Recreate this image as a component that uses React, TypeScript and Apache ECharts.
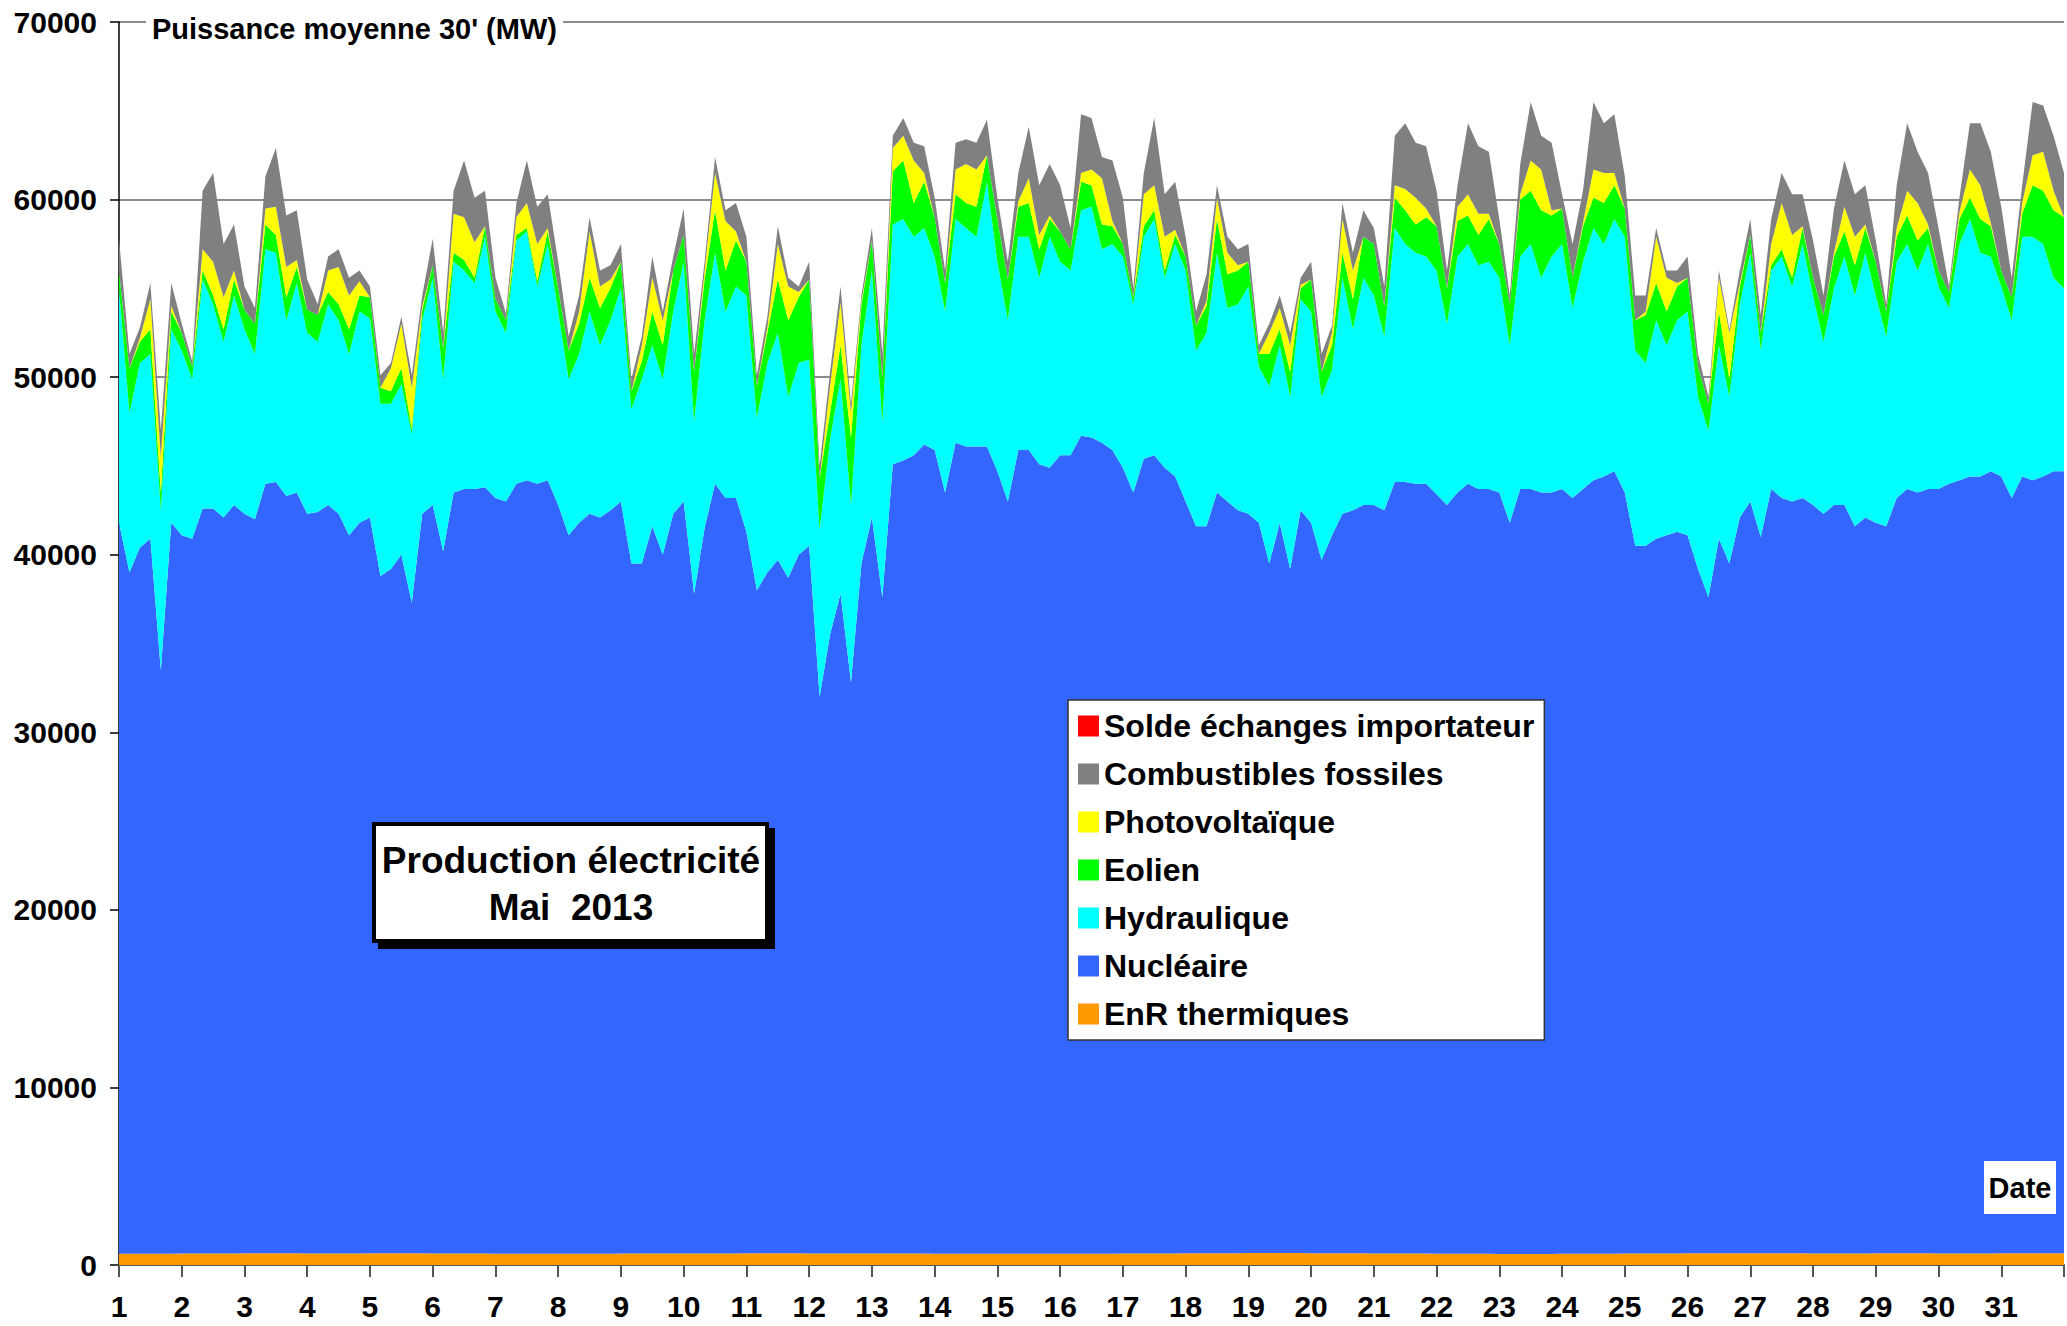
import React, { useEffect, useRef } from "react";
import * as echarts from "echarts";

// Sampling: 6 readings per day (0h, 4h, 8h, 12h, 16h, 20h), days 1..31, plus day 32 0h.
const heures = [0, 4, 8, 12, 16, 20];
const nbJours = 31;

// Cumulative levels (GW): top edge of each stacked band.
const cumulNucleaireGW = [
  41.8, 39.0, 40.4, 40.9, 33.5, 41.8,
  41.1, 40.9, 42.6, 42.6, 42.1, 42.8,
  42.3, 42.0, 44.0, 44.1, 43.3, 43.5,
  42.3, 42.4, 42.8, 42.3, 41.1, 41.8,
  42.1, 38.8, 39.2, 40.0, 37.3, 42.3,
  42.8, 40.2, 43.5, 43.7, 43.7, 43.8,
  43.2, 43.0, 44.0, 44.2, 44.0, 44.2,
  42.8, 41.1, 41.8, 42.3, 42.1, 42.5,
  43.0, 39.5, 39.5, 41.6, 40.0, 42.3,
  43.0, 37.8, 41.5, 44.0, 43.2, 43.2,
  41.3, 38.0, 39.0, 39.7, 38.7, 40.0,
  40.5, 32.0, 35.5, 37.8, 32.8, 39.5,
  42.1, 37.6, 45.1, 45.3, 45.6, 46.2,
  45.9, 43.5, 46.3, 46.1, 46.1, 46.1,
  44.7, 43.0, 45.9, 45.9, 45.1, 44.9,
  45.6, 45.6, 46.7, 46.6, 46.3, 45.9,
  44.9, 43.5, 45.4, 45.6, 44.9, 44.4,
  43.0, 41.6, 41.6, 43.5, 43.0, 42.5,
  42.3, 41.8, 39.5, 41.8, 39.2, 42.5,
  41.8, 39.7, 41.1, 42.3, 42.5, 42.8,
  42.8, 42.5, 44.1, 44.1, 44.0, 44.0,
  43.4, 42.8, 43.5, 44.0, 43.7, 43.7,
  43.5, 41.8, 43.7, 43.7, 43.5, 43.5,
  43.7, 43.2, 43.7, 44.2, 44.4, 44.7,
  43.5, 40.5, 40.5, 40.9, 41.1, 41.3,
  41.1, 39.2, 37.6, 40.9, 39.5, 42.1,
  43.0, 41.0, 43.7, 43.2, 43.0, 43.2,
  42.8, 42.3, 42.8, 42.8, 41.6, 42.1,
  41.8, 41.6, 43.2, 43.7, 43.5, 43.7,
  43.7, 44.0, 44.2, 44.4, 44.4, 44.7,
  44.4, 43.2, 44.4, 44.2, 44.4, 44.7,
  44.7,
];

const cumulHydrauliqueGW = [
  55.0, 48.0, 50.8, 51.3, 42.5, 52.7,
  51.5, 49.9, 55.5, 54.1, 52.0, 54.6,
  52.7, 51.3, 57.2, 57.0, 53.2, 55.3,
  52.5, 52.0, 54.1, 53.2, 51.3, 53.7,
  53.3, 48.5, 48.5, 49.6, 46.8, 53.2,
  55.6, 49.9, 56.5, 56.0, 55.3, 57.9,
  53.7, 52.5, 57.7, 58.2, 55.1, 57.5,
  53.7, 49.9, 51.3, 53.7, 51.8, 53.2,
  55.0, 48.2, 49.9, 51.8, 49.9, 53.7,
  56.5, 47.5, 53.2, 57.0, 53.7, 55.1,
  54.6, 47.7, 50.8, 52.5, 48.9, 50.8,
  51.0, 41.4, 46.5, 49.9, 42.8, 51.8,
  56.0, 47.5, 58.6, 58.9, 57.9, 58.4,
  56.8, 53.7, 58.9, 58.4, 57.9, 61.0,
  56.5, 53.2, 57.9, 57.9, 55.6, 57.9,
  56.5, 56.0, 59.4, 59.6, 57.2, 57.5,
  56.8, 54.1, 57.9, 58.9, 55.6, 57.5,
  56.0, 51.5, 52.5, 57.0, 53.9, 54.1,
  55.1, 50.6, 49.5, 51.8, 48.9, 54.4,
  53.7, 48.9, 50.4, 55.6, 52.7, 55.6,
  54.6, 52.3, 58.4, 57.5, 57.0, 56.8,
  56.0, 53.0, 56.8, 57.5, 56.3, 56.5,
  55.6, 51.8, 56.8, 57.5, 55.6, 56.8,
  57.5, 53.9, 56.5, 58.4, 57.5, 58.9,
  57.9, 51.5, 50.8, 53.2, 51.8, 53.2,
  53.7, 48.9, 47.0, 51.8, 48.9, 54.1,
  57.0, 51.5, 56.0, 56.8, 55.1, 57.5,
  54.6, 52.0, 55.0, 56.8, 54.6, 57.0,
  54.6, 52.3, 56.5, 57.5, 56.0, 57.5,
  55.1, 53.9, 57.5, 58.9, 57.0, 56.8,
  55.1, 53.2, 57.9, 57.9, 57.5, 55.6,
  55.0,
];

const cumulEolienGW = [
  56.0, 50.5, 52.0, 52.7, 43.5, 53.7,
  52.5, 50.6, 56.0, 54.6, 52.7, 55.5,
  53.8, 53.0, 58.6, 58.0, 54.5, 56.2,
  53.8, 53.5, 54.8, 54.1, 52.7, 54.6,
  54.5, 49.4, 49.2, 50.5, 47.1, 53.8,
  56.3, 51.6, 57.0, 56.6, 55.6, 58.5,
  54.4, 53.2, 58.0, 58.4, 55.4, 58.2,
  55.0, 51.5, 53.0, 55.6, 53.9, 55.0,
  56.5, 49.2, 50.9, 53.7, 51.8, 56.0,
  58.0, 50.3, 55.5, 59.4, 56.0, 57.7,
  56.5, 49.5, 52.5, 55.5, 53.2, 54.5,
  55.5, 44.3, 48.0, 51.8, 46.6, 54.1,
  57.7, 49.9, 61.6, 62.2, 59.8, 61.0,
  59.0, 55.3, 60.3, 59.8, 59.6, 62.5,
  58.9, 55.5, 59.6, 59.8, 57.2, 58.9,
  58.2, 57.2, 61.0, 60.8, 58.6, 58.5,
  57.5, 54.5, 58.5, 59.4, 56.0, 58.0,
  56.8, 52.9, 54.0, 58.9, 55.8, 56.0,
  56.5, 51.3, 51.3, 52.7, 50.3, 55.0,
  55.5, 50.3, 51.8, 57.0, 54.4, 57.9,
  57.5, 54.0, 60.1, 59.4, 58.6, 59.0,
  58.5, 55.0, 58.8, 59.1, 58.0, 58.9,
  57.5, 54.1, 60.0, 60.5, 59.4, 59.1,
  59.5, 55.6, 58.5, 60.1, 59.8, 60.8,
  59.5, 53.2, 53.5, 55.3, 53.7, 55.1,
  55.6, 50.6, 48.5, 53.7, 49.9, 55.1,
  58.0, 52.5, 56.3, 57.2, 55.6, 58.4,
  55.6, 53.5, 56.8, 58.2, 56.3, 58.4,
  56.5, 53.7, 57.9, 59.1, 57.7, 58.4,
  56.0, 54.8, 58.9, 60.1, 58.9, 58.5,
  56.0, 54.5, 59.2, 60.8, 60.5, 59.4,
  59.0,
];

const cumulPhotovoltaiqueGW = [
  56.0, 50.5, 52.2, 54.4, 45.5, 54.0,
  52.5, 50.6, 57.2, 56.5, 54.5, 56.0,
  53.8, 53.0, 59.5, 59.6, 56.2, 56.6,
  53.8, 53.5, 56.0, 56.2, 54.6, 55.4,
  54.5, 49.4, 50.5, 53.0, 49.4, 54.0,
  56.3, 51.6, 59.2, 59.0, 57.6, 58.5,
  54.4, 53.2, 59.0, 59.8, 57.5, 58.4,
  55.0, 51.5, 53.7, 58.2, 55.1, 55.5,
  56.5, 49.2, 51.8, 55.6, 53.2, 56.0,
  58.0, 50.3, 56.0, 61.5, 58.8, 58.2,
  56.5, 49.5, 52.8, 57.5, 55.1, 54.8,
  55.5, 44.3, 49.5, 54.2, 48.0, 54.3,
  57.7, 49.9, 62.9, 63.6, 62.2, 61.5,
  59.0, 55.3, 61.7, 62.0, 61.7, 62.5,
  58.9, 55.5, 59.9, 61.2, 58.0, 59.1,
  58.2, 57.2, 61.5, 61.7, 61.2, 58.8,
  57.5, 54.5, 60.3, 60.8, 57.9, 58.3,
  56.8, 52.9, 54.3, 60.1, 57.0, 56.3,
  56.5, 51.3, 52.5, 53.9, 51.8, 55.2,
  55.5, 50.3, 52.5, 58.9, 56.0, 57.9,
  57.5, 54.0, 60.8, 60.6, 60.1, 59.5,
  58.5, 55.0, 59.6, 60.3, 59.2, 59.2,
  57.5, 54.1, 60.3, 62.2, 61.7, 59.4,
  59.5, 55.6, 58.7, 61.7, 61.5, 61.5,
  59.5, 53.2, 53.7, 57.9, 55.6, 55.3,
  55.6, 50.6, 48.5, 55.6, 52.5, 55.3,
  58.0, 52.5, 57.5, 59.8, 58.0, 58.5,
  55.6, 53.5, 57.0, 59.6, 57.9, 58.6,
  56.5, 53.7, 58.4, 60.5, 59.8, 58.6,
  56.0, 54.8, 59.3, 61.7, 60.8, 58.7,
  56.0, 54.5, 59.8, 62.5, 62.7, 60.5,
  59.0,
];

const cumulFossilesGW = [
  57.8, 51.3, 52.8, 55.3, 47.0, 55.3,
  53.0, 50.9, 60.5, 61.5, 57.5, 58.6,
  55.1, 53.9, 61.3, 62.9, 59.1, 59.4,
  55.5, 54.1, 56.8, 57.2, 55.6, 56.0,
  55.1, 50.1, 50.8, 53.4, 50.1, 54.6,
  57.8, 52.5, 60.5, 62.2, 60.1, 60.5,
  55.6, 53.6, 59.8, 62.2, 59.6, 60.3,
  56.5, 52.3, 54.6, 59.0, 56.0, 56.3,
  57.5, 49.9, 52.3, 56.8, 53.7, 56.8,
  59.5, 51.3, 56.5, 62.4, 59.4, 59.8,
  57.9, 50.1, 53.4, 58.5, 55.6, 55.1,
  56.5, 45.0, 50.3, 55.1, 48.5, 54.6,
  58.4, 51.3, 63.6, 64.6, 63.2, 63.0,
  60.1, 56.0, 63.2, 63.4, 63.2, 64.5,
  60.1, 56.5, 61.5, 64.1, 60.8, 62.0,
  60.8, 58.4, 64.8, 64.6, 62.4, 62.2,
  60.1, 55.0, 61.5, 64.6, 60.3, 61.0,
  57.9, 53.7, 55.8, 60.8, 57.9, 57.2,
  57.5, 51.8, 53.0, 54.6, 52.5, 55.6,
  56.5, 51.3, 52.9, 59.8, 57.0, 59.4,
  58.4, 55.1, 63.6, 64.3, 63.2, 63.0,
  60.5, 56.0, 60.8, 64.3, 63.0, 62.7,
  58.9, 54.6, 62.0, 65.5, 63.6, 63.2,
  60.3, 57.5, 60.5, 65.5, 64.3, 64.8,
  61.3, 54.6, 54.6, 58.4, 56.0, 56.0,
  56.8, 51.3, 48.9, 56.0, 52.7, 56.0,
  58.9, 53.5, 58.9, 61.5, 60.3, 60.3,
  57.7, 54.6, 59.5, 62.2, 60.3, 60.8,
  57.7, 54.1, 60.8, 64.3, 62.7, 61.5,
  58.4, 55.1, 60.1, 64.3, 64.3, 62.7,
  59.6, 55.6, 60.8, 65.5, 65.3, 63.6,
  61.5,
];

// EnR thermiques (MW), one reading per day
const enrThermiquesParJour = [
  640, 650, 660, 650, 660, 650, 640, 630, 650, 650, 660, 650, 650, 640, 630, 640,
  650, 660, 670, 660, 650, 640, 620, 630, 650, 660, 660, 650, 660, 650, 660,
];
// Solde échanges importateur (MW), one reading per day (France exporter all month)
const soldeImportateurParJour = [
  0, 0, 0, 0, 0, 0, 0, 0, 0, 0, 0, 0, 0, 0, 0, 0,
  0, 0, 0, 0, 0, 0, 0, 0, 0, 0, 0, 0, 0, 0, 0,
];

const nomsSeries = [
  "Solde échanges importateur",
  "Combustibles fossiles",
  "Photovoltaïque",
  "Eolien",
  "Hydraulique",
  "Nucléaire",
  "EnR thermiques",
];
const couleurs: Record<string, string> = {
  "Solde échanges importateur": "#FF0000",
  "Combustibles fossiles": "#808080",
  "Photovoltaïque": "#FFFF00",
  "Eolien": "#00FF00",
  "Hydraulique": "#00FFFF",
  "Nucléaire": "#3366FF",
  "EnR thermiques": "#FF9900",
};

const FONT = "'Liberation Sans', Arial, Helvetica, sans-serif";

// Category labels: "jour|heure" (one per reading)
const categories: string[] = [];
const jourIdx: number[] = [];
for (let d = 1; d <= nbJours; d++) {
  for (const h of heures) {
    categories.push(`${d}|${h}`);
    jourIdx.push(d - 1);
  }
}
categories.push(`${nbJours + 1}|0`);
jourIdx.push(nbJours - 1);

function buildSeries() {
  const r = (v: number) => Math.max(0, Math.round(v));
  const enr = jourIdx.map((j) => enrThermiquesParJour[j]);
  const nuc = cumulNucleaireGW.map((v, i) => r(v * 1000 - enr[i]));
  const hyd = cumulHydrauliqueGW.map((v, i) => r((v - cumulNucleaireGW[i]) * 1000));
  const eol = cumulEolienGW.map((v, i) => r((v - cumulHydrauliqueGW[i]) * 1000));
  const pv = cumulPhotovoltaiqueGW.map((v, i) => r((v - cumulEolienGW[i]) * 1000));
  const fos = cumulFossilesGW.map((v, i) => r((v - cumulPhotovoltaiqueGW[i]) * 1000));
  const solde = jourIdx.map((j) => soldeImportateurParJour[j]);

  const order: [string, number[]][] = [
    ["EnR thermiques", enr],
    ["Nucléaire", nuc],
    ["Hydraulique", hyd],
    ["Eolien", eol],
    ["Photovoltaïque", pv],
    ["Combustibles fossiles", fos],
    ["Solde échanges importateur", solde],
  ];
  return order.map(([name, vals]) => ({
    name,
    type: "line",
    stack: "total",
    data: vals,
    symbol: "none",
    showSymbol: false,
    smooth: false,
    color: couleurs[name],
    itemStyle: { color: couleurs[name] },
    lineStyle: { width: 0, color: couleurs[name] },
    areaStyle: { color: couleurs[name], opacity: 1 },
    emphasis: { disabled: true },
  }));
}

export default function App() {
  const ref = useRef<HTMLDivElement>(null);
  useEffect(() => {
    if (!ref.current) return;
    const chart = echarts.init(ref.current, undefined, { renderer: "svg" });
    const option: any = {
      animation: false,
      backgroundColor: "#ffffff",
      grid: { left: 119, right: -6, top: 22, bottom: 61, containLabel: false },
      xAxis: {
        type: "category",
        data: categories,
        boundaryGap: false,
        axisLine: { show: true, onZero: false, lineStyle: { color: "#555555", width: 2 } },
        axisTick: { show: true, interval: 5, length: 12, lineStyle: { color: "#555555", width: 2 } },
        axisLabel: {
          interval: 5,
          margin: 26,
          fontSize: 30,
          fontWeight: "bold",
          color: "#000",
          fontFamily: FONT,
          formatter: (v: string) => {
            const d = parseInt(v.split("|")[0], 10);
            return d > nbJours ? "" : String(d);
          },
        },
        splitLine: { show: false },
      },
      yAxis: {
        type: "value",
        min: 0,
        max: 70000,
        interval: 10000,
        axisLine: { show: true, lineStyle: { color: "#000", width: 1.5 } },
        axisTick: { show: true, length: 9, lineStyle: { color: "#000", width: 1.5 } },
        axisLabel: {
          margin: 22,
          fontSize: 30,
          fontWeight: "bold",
          color: "#000",
          fontFamily: FONT,
          formatter: (v: number) => String(v),
        },
        splitLine: { show: true, lineStyle: { color: "#666666", width: 1.5 } },
      },
      legend: {
        data: nomsSeries,
        orient: "vertical",
        left: 1068,
        top: 700,
        backgroundColor: "#ffffff",
        borderColor: "#333333",
        borderWidth: 1.5,
        padding: [10, 10, 10, 10],
        itemWidth: 21,
        itemHeight: 21,
        itemGap: 16,
        icon: "rect",
        selectedMode: false,
        textStyle: { fontSize: 32, fontWeight: "bold", color: "#000", fontFamily: FONT, lineHeight: 31 },
      },
      series: buildSeries(),
      graphic: [
        {
          type: "text",
          z: 100,
          left: 146,
          top: 12,
          style: {
            text: "Puissance moyenne 30' (MW)",
            font: `bold 29px ${FONT}`,
            fill: "#000",
            backgroundColor: "#fff",
            padding: [2, 6, 2, 6],
          },
        },
        {
          type: "rect",
          z: 100,
          shape: { x: 378, y: 828, width: 397, height: 121 },
          style: { fill: "#000" },
        },
        {
          type: "rect",
          z: 101,
          shape: { x: 374, y: 824, width: 393, height: 117 },
          style: { fill: "#fff", stroke: "#000", lineWidth: 4 },
        },
        {
          type: "text",
          z: 102,
          x: 571,
          y: 860,
          style: {
            text: "Production électricité",
            font: `bold 37px ${FONT}`,
            fill: "#000",
            align: "center",
            verticalAlign: "middle",
            textAlign: "center",
            textVerticalAlign: "middle",
          },
        },
        {
          type: "text",
          z: 102,
          x: 571,
          y: 907,
          style: {
            text: "Mai  2013",
            font: `bold 37px ${FONT}`,
            fill: "#000",
            align: "center",
            verticalAlign: "middle",
            textAlign: "center",
            textVerticalAlign: "middle",
          },
        },
        {
          type: "rect",
          z: 100,
          shape: { x: 1984, y: 1161, width: 72, height: 53 },
          style: { fill: "#fff" },
        },
        {
          type: "text",
          z: 101,
          x: 2020,
          y: 1188,
          style: {
            text: "Date",
            font: `bold 29px ${FONT}`,
            fill: "#000",
            align: "center",
            verticalAlign: "middle",
            textAlign: "center",
            textVerticalAlign: "middle",
          },
        },
      ],
    };
    chart.setOption(option);
    return () => chart.dispose();
  }, []);
  return (
    <div
      ref={ref}
      style={{ position: "fixed", left: 0, top: 0, width: "2067px", height: "1326px" }}
    />
  );
}
